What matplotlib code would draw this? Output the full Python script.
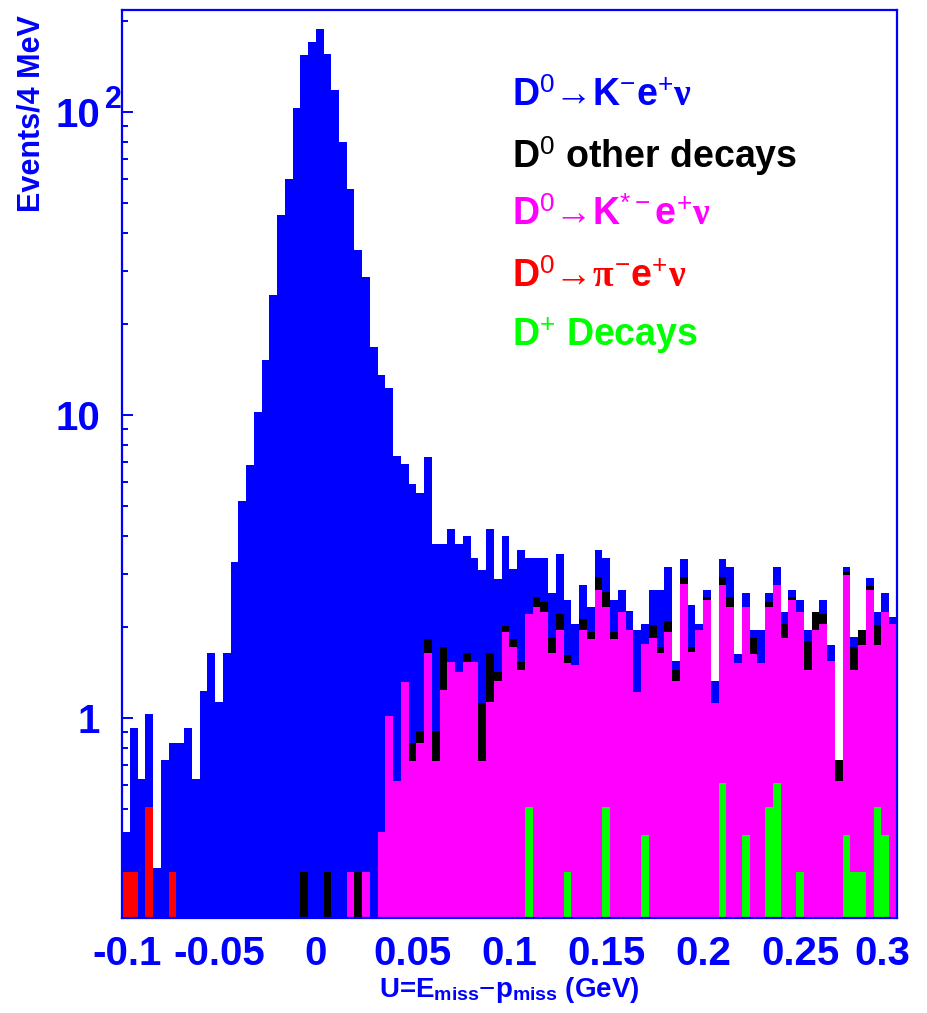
import numpy as np
import matplotlib
matplotlib.use('Agg')
from matplotlib import pyplot as plt
from matplotlib import transforms
from matplotlib.ticker import FixedLocator, NullFormatter, LogLocator

plt.rcParams['font.family'] = ['Liberation Sans', 'DejaVu Sans']
plt.rcParams['mathtext.fontset'] = 'custom'
plt.rcParams['mathtext.rm'] = 'Liberation Sans'
plt.rcParams['mathtext.it'] = 'Liberation Serif:bold'
plt.rcParams['mathtext.bf'] = 'Liberation Sans:bold'

# U = E_miss - p_miss, 100 bins of 4 MeV
u_lo, u_hi, n_bins = -0.1, 0.3, 100

# overlaid histograms (ROOT style): every level contains the ones drawn above it
# all events
h_all = [0.42, 0.93, 0.63, 1.03, 0.32, 0.73, 0.83, 0.83, 0.93, 0.63,
         1.23, 1.64, 1.13, 1.64, 3.28, 5.21, 6.84, 10.25, 15.2, 24.9,
         45.7, 60.0, 103.5, 154.0, 170.0, 189.0, 156.0, 118.0, 79.8, 56.0,
         35.0, 28.5, 16.8, 13.6, 12.3, 7.34, 6.89, 5.95, 5.52, 7.28,
         3.77, 3.77, 4.2, 3.77, 3.99, 3.39, 3.08, 4.2, 2.89, 3.99,
         3.1, 3.58, 3.38, 3.38, 3.38, 2.58, 3.47, 2.45, 2.05, 2.76,
         2.33, 3.58, 3.38, 2.45, 2.65, 2.26, 1.95, 2.05, 2.65, 2.64,
         3.16, 1.55, 3.35, 2.37, 2.05, 2.64, 1.33, 3.35, 3.16, 1.63,
         2.58, 1.95, 1.95, 2.58, 3.16, 2.24, 2.64, 2.45, 1.95, 2.24,
         2.45, 1.75, 0.73, 3.16, 1.86, 1.95, 2.9, 2.24, 2.58, 2.16]

# D0 other decays + K* + pi + D+
h_bkg = [0.31, 0.31, 0, 0.51, 0, 0, 0.31, 0, 0, 0,
         0, 0, 0, 0, 0, 0, 0, 0, 0, 0,
         0, 0, 0, 0.31, 0, 0, 0.31, 0, 0, 0.31,
         0.31, 0.31, 0, 0.42, 1.02, 0.62, 1.32, 0.83, 0.91, 1.82,
         0.91, 1.72, 1.53, 1.42, 1.64, 1.53, 1.12, 1.64, 1.42, 2.01,
         1.82, 1.53, 2.2, 2.52, 2.42, 1.84, 2.2, 1.62, 1.5, 2.12,
         1.93, 2.93, 2.61, 1.93, 2.24, 1.95, 1.22, 1.76, 2.03, 1.72,
         2.1, 1.44, 2.93, 1.72, 1.95, 2.52, 1.12, 2.93, 2.52, 1.52,
         2.33, 1.84, 1.52, 2.42, 2.76, 2.05, 2.52, 2.24, 1.8, 2.24,
         2.2, 1.55, 0.73, 3.04, 1.72, 1.95, 2.74, 2.03, 2.24, 2.05]

# K* e nu + pi + D+
h_kstar = [0.31, 0.31, 0, 0.51, 0, 0, 0.31, 0, 0, 0,
           0, 0, 0, 0, 0, 0, 0, 0, 0, 0,
           0, 0, 0, 0, 0, 0, 0, 0, 0, 0.31,
           0, 0.31, 0, 0.42, 1.02, 0.62, 1.32, 0.72, 0.825, 1.64,
           0.72, 1.24, 1.53, 1.42, 1.53, 1.53, 0.72, 1.13, 1.33, 1.93,
           1.72, 1.44, 2.2, 2.33, 2.24, 1.64, 1.95, 1.52, 1.5, 1.95,
           1.83, 2.64, 2.33, 1.83, 2.24, 1.95, 1.22, 1.76, 1.84, 1.64,
           1.93, 1.33, 2.78, 1.65, 1.95, 2.45, 1.12, 2.76, 2.33, 1.52,
           2.33, 1.63, 1.52, 2.33, 2.76, 1.84, 2.45, 2.24, 1.44, 1.95,
           2.05, 1.55, 0.62, 2.96, 1.44, 1.75, 2.64, 1.74, 2.24, 2.05]

# pi e nu (only where it shows) and D+ decays
pi_bins = [0, 1, 3, 6]
pi_vals = [0.31, 0.31, 0.51, 0.31]
dplus_bins = [52, 57, 62, 67, 77, 80, 83, 84, 87, 93, 94, 95, 97, 98]
dplus_vals = [0.51, 0.31, 0.51, 0.41, 0.61, 0.41, 0.51, 0.61, 0.31, 0.41,
              0.31, 0.31, 0.51, 0.41]

h_dplus = np.zeros(n_bins)
h_dplus[dplus_bins] = dplus_vals
h_pi = h_dplus.copy()
h_pi[pi_bins] += pi_vals

edges = np.linspace(u_lo, u_hi, n_bins + 1)
floor = 1e-3

fig = plt.figure(figsize=(9.28, 10.13), dpi=100)
ax = fig.add_axes([0.1315, 0.0938, 0.835, 0.896])
ax.set_yscale('log')


def draw(vals, color, lw):
    v = np.asarray(vals, dtype=float)
    v = np.where(v > 0, v, floor)
    ax.stairs(v, edges, baseline=floor, fill=True, color=color, linewidth=lw)


draw(h_all, '#0000ff', 2.0)
draw(h_bkg, 'black', 2.0)
draw(h_kstar, '#ff00ff', 2.0)
draw(h_pi, '#ff0000', 0.0)
draw(h_dplus, '#00ff00', 0.0)

ax.set_xlim(u_lo, u_hi)
ax.set_ylim(0.219, 217)

# axes look
for s in ax.spines.values():
    s.set_color('#0000ff')
    s.set_linewidth(1.6)
ax.set_axisbelow(True)

xt = [-0.1, -0.05, 0, 0.05, 0.1, 0.15, 0.2, 0.25, 0.3]
xt_labels = ['-0.1', '-0.05', '0', '0.05', '0.1', '0.15', '0.2', '0.25', '0.3']
ax.set_xticks(xt)
# end labels are pushed inside the pad, like ROOT does, so draw them apart
ax.set_xticklabels([''] + xt_labels[1:-1] + [''], fontsize=29,
                   fontweight='bold', color='#0000ff')
xtrans = transforms.blended_transform_factory(ax.transData, ax.transAxes)
for xv, lab, dx in [(xt[0], xt_labels[0], 5), (xt[-1], xt_labels[-1], -15)]:
    ax.text(xv, -0.0185, lab, transform=xtrans + transforms.ScaledTranslation(dx / 100, 0, fig.dpi_scale_trans),
            ha='center', va='top', fontsize=29, fontweight='bold', color='#0000ff')

ax.yaxis.set_major_locator(FixedLocator([1, 10, 100]))
ax.yaxis.set_minor_locator(LogLocator(base=10, subs=np.arange(2, 10)))
ax.yaxis.set_minor_formatter(NullFormatter())
ax.set_yticklabels(['1', '10', '10'], fontsize=29, fontweight='bold', color='#0000ff')

ax.tick_params(axis='both', which='both', direction='in', color='#0000ff',
               width=1.4, top=False, right=False)
ax.tick_params(axis='both', which='major', length=8)
ax.tick_params(axis='both', which='minor', length=4)
ax.tick_params(axis='y', pad=16)
ax.tick_params(axis='x', pad=12)

# exponent of 10^2 drawn like ROOT does it
trans = transforms.blended_transform_factory(ax.transAxes, ax.transData)
ax.text(-0.0116, 110, '2', transform=trans, ha='center', va='center',
        fontsize=22, fontweight='bold', color='#0000ff')

fig.text(0.034, 0.985, 'Events/4 MeV', rotation=90, ha='center', va='top',
         fontsize=22, fontweight='bold', color='#0000ff')
fig.text(509 / 928, 1 - 990 / 1013,
         r'U=E$_{\mathbf{miss}}$$-$p$_{\mathbf{miss}}$ (GeV)',
         ha='center', va='center', fontsize=20, fontweight='bold', color='#0000ff')

# legend as coloured text
leg_text = [r'D$^{0}$→K$^{-}$e$^{+}$$\nu$',
            r'D$^{0}$ other decays',
            r'D$^{0}$→K$^{*-}$e$^{+}$$\nu$',
            r'D$^{0}$→$\pi^{-}$e$^{+}$$\nu$',
            r'D$^{+}$ Decays']
leg_color = ['#0000ff', 'black', '#ff00ff', '#ff0000', '#00ff00']
leg_base = [106, 168, 225, 287, 345]
for txt, c, yb in zip(leg_text, leg_color, leg_base):
    fig.text(512 / 928, 1 - yb / 1013, txt, ha='left', va='baseline',
             fontsize=27, fontweight='bold', color=c)

plt.savefig('out.png', dpi=100)
plt.close()
